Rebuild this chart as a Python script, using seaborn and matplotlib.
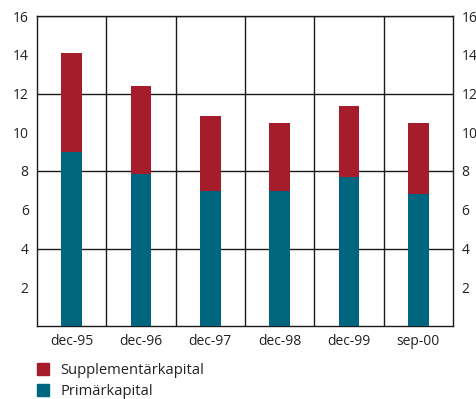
import matplotlib
matplotlib.use("Agg")
import matplotlib.pyplot as plt
import matplotlib.patches as mpatches
import seaborn as sns
import pandas as pd

# Capital base per period (per cent)
periods = ["dec-95", "dec-96", "dec-97", "dec-98", "dec-99", "sep-00"]
primar = [9.0, 7.85, 6.95, 6.95, 7.7, 6.8]
supplement = [5.1, 4.55, 3.9, 3.55, 3.65, 3.7]
yticks = [2, 4, 6, 8, 10, 12, 14, 16]

RED = "#A51C2A"
TEAL = "#00667F"
LINE = "#1a1a1a"

sns.set_theme(style="white")
plt.rcParams["font.family"] = ["Open Sans", "DejaVu Sans"]

df = pd.DataFrame({
    "period": periods,
    "primar": primar,
    "total": [p + s for p, s in zip(primar, supplement)],
})

fig = plt.figure(figsize=(4.76, 3.99), dpi=100)
ax = fig.add_axes([37 / 476, 73 / 399, 416 / 476, 310 / 399])

sns.barplot(data=df, x="period", y="total", color=RED, width=0.3,
            saturation=1, linewidth=0, ax=ax, zorder=3)
sns.barplot(data=df, x="period", y="primar", color=TEAL, width=0.3,
            saturation=1, linewidth=0, ax=ax, zorder=4)

n = len(periods)
ax.set_xlim(-0.5, n - 0.5)
ax.set_ylim(0, 16)

# grid: horizontal lines every 4, vertical separators between periods
for y in [4, 8, 12, 16]:
    ax.axhline(y, color=LINE, lw=1, zorder=1)
for i in range(1, n):
    ax.axvline(i - 0.5, color=LINE, lw=1, zorder=1)

for side in ["left", "right", "bottom", "top"]:
    ax.spines[side].set_visible(True)
    ax.spines[side].set_color(LINE)
    ax.spines[side].set_linewidth(1)

ax.set_yticks(yticks)
ax.set_yticklabels([str(v) for v in yticks])
ax.set_yticks([2, 6, 10, 14], minor=True)
ax.tick_params(axis="y", which="major", length=0, pad=6, labelsize=10,
               labelcolor="#222222", left=True, right=True,
               labelleft=True, labelright=True)
ax.tick_params(axis="y", which="minor", direction="in", length=7.5,
               width=1, color=LINE, left=True, right=True)
ax.tick_params(axis="x", length=0, pad=6, labelsize=10, labelcolor="#222222")
ax.set_xlabel("")
ax.set_ylabel("")

handles = [mpatches.Patch(color=RED, label="Supplementärkapital"),
           mpatches.Patch(color=TEAL, label="Primärkapital")]
fig.legend(handles=handles, loc="upper left",
           bbox_to_anchor=(31 / 476, 1 - 357 / 399), frameon=False,
           fontsize=10.6, handlelength=0.85, handleheight=0.85,
           handletextpad=0.75, labelspacing=0.4, borderaxespad=0,
           labelcolor="#222222")

fig.savefig("out.png", dpi=100)
